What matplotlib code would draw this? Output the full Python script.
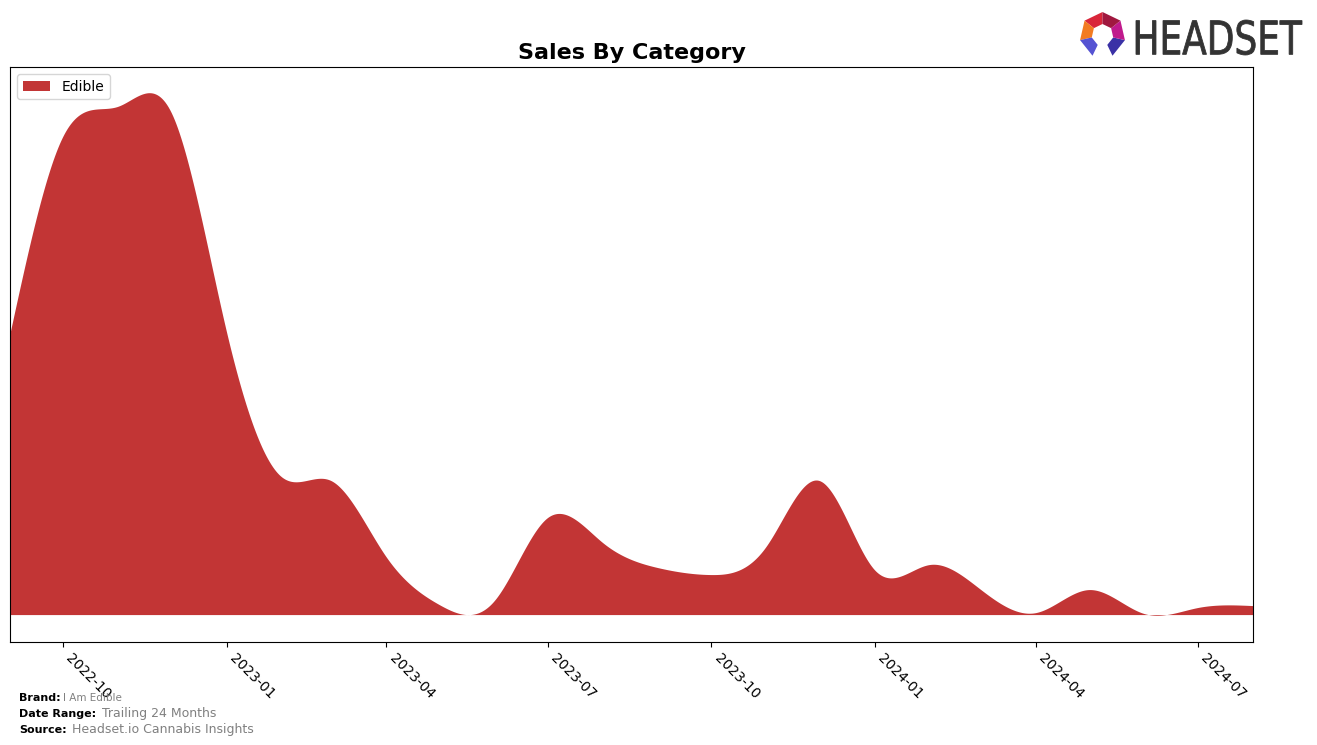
"""Sales By Category area chart for one brand (trailing 24 months), Headset style."""

import numpy as np
import pandas as pd
from matplotlib import pyplot as plt
from matplotlib.patches import Polygon, PathPatch
from matplotlib.textpath import TextPath
from matplotlib.font_manager import FontProperties
from matplotlib.transforms import Affine2D, IdentityTransform

# monthly sales values (arbitrary units)
MONTHS = pd.date_range("2022-09-01", "2024-08-01", freq="MS")
EDIBLE = [279, 478, 508, 502, 284, 138, 134, 58, 10, 14, 97, 72,
          47, 40, 68, 134, 45, 50, 25, 2, 25, 1, 7, 9]
CATEGORY = "Edible"
COLOR = "#C23535"

BRAND = "I Am Edible"
DATE_RANGE = "Trailing 24 Months"
SOURCE = "Headset.io Cannabis Insights"
TICKS = pd.date_range("2022-10-01", "2024-07-01", freq="3MS")

W, H = 1317, 745


def natural_spline(x, y, xs):
    # natural cubic spline, used only to smooth the monthly series for display
    x = np.asarray(x, float)
    y = np.asarray(y, float)
    n = len(x)
    h = np.diff(x)
    A = np.zeros((n, n))
    b = np.zeros(n)
    A[0, 0] = A[-1, -1] = 1.0
    for i in range(1, n - 1):
        A[i, i - 1] = h[i - 1]
        A[i, i] = 2 * (h[i - 1] + h[i])
        A[i, i + 1] = h[i]
        b[i] = 3 * ((y[i + 1] - y[i]) / h[i] - (y[i] - y[i - 1]) / h[i - 1])
    c = np.linalg.solve(A, b)
    idx = np.clip(np.searchsorted(x, xs) - 1, 0, n - 2)
    dx = xs - x[idx]
    hi = h[idx]
    bb = (y[idx + 1] - y[idx]) / hi - hi * (2 * c[idx] + c[idx + 1]) / 3
    dd = (c[idx + 1] - c[idx]) / (3 * hi)
    return y[idx] + bb * dx + c[idx] * dx ** 2 + dd * dx ** 3


def draw_logo(fig):
    # rough Headset mark: heptagon ring open at the bottom, in display pixels
    cx, cy = 1102.5, H - 35
    r_out, r_in = 23, 11
    ang = np.deg2rad(90 + np.arange(8) * 360 / 7)
    outer = np.c_[cx + r_out * np.cos(ang), cy + r_out * np.sin(ang)]
    inner = np.c_[cx + r_in * np.cos(ang), cy + r_in * np.sin(ang)]
    # segment index -> colour (segment 3 is the gap at the bottom)
    seg_colors = {0: "#D9263A", 1: "#F27B21", 2: "#5553D2", 4: "#3A31A6", 5: "#C01A8C", 6: "#A0183F"}
    for i, col in seg_colors.items():
        verts = [outer[i], outer[i + 1], inner[i + 1], inner[i]]
        fig.patches.append(Polygon(verts, closed=True, facecolor=col, edgecolor="none",
                                   transform=IdentityTransform()))

    # wordmark squeezed into the box the reference shows
    tp = TextPath((0, 0), "HEADSET", size=50, prop=FontProperties(family="DejaVu Sans"))
    ext = tp.get_extents()
    x0, x1, y0, y1 = 1136, 1302, H - 55, H - 20
    tr = Affine2D().translate(-ext.x0, -ext.y0).scale((x1 - x0) / ext.width,
                                                      (y1 - y0) / ext.height).translate(x0, y0)
    fig.patches.append(PathPatch(tr.transform_path(tp), facecolor="#333333", edgecolor="#333333",
                                 linewidth=0.6, transform=IdentityTransform()))


def main():
    fig = plt.figure(figsize=(W / 100, H / 100), dpi=100)
    ax = fig.add_axes([0.0076, 0.1383, 0.9438, 0.7717])

    xnum = MONTHS.map(pd.Timestamp.toordinal).to_numpy(dtype=float)
    xs = np.linspace(xnum[0], xnum[-1], 800)
    ys = natural_spline(xnum, EDIBLE, xs)
    xdates = [pd.Timestamp.fromordinal(int(v)) + pd.Timedelta(days=v - int(v)) for v in xs]

    ax.stackplot(xdates, ys, labels=[CATEGORY], colors=[COLOR])
    ax.set_xlim(MONTHS[0], MONTHS[-1])
    lo, hi = ys.min(), ys.max()
    pad = 0.05 * (hi - lo)
    ax.set_ylim(lo - pad, hi + pad)

    ax.set_yticks([])
    ax.set_xticks(TICKS)
    ax.set_xticklabels([t.strftime("%Y-%m") for t in TICKS], rotation=-45, ha="left", fontsize=10)
    ax.set_title("Sales By Category", fontsize=16, fontweight="bold", pad=6)
    ax.legend(loc="upper left", fontsize=10)

    # footer
    fig.text(0.0144, 0.0586, "Brand:", fontsize=8, fontweight="bold")
    fig.text(0.048, 0.0586, BRAND, fontsize=7.5, color="gray")
    fig.text(0.0144, 0.0376, "Date Range:", fontsize=8, fontweight="bold")
    fig.text(0.0775, 0.0376, DATE_RANGE, fontsize=9, color="gray")
    fig.text(0.0144, 0.0166, "Source:", fontsize=8, fontweight="bold")
    fig.text(0.0547, 0.0166, SOURCE, fontsize=9, color="gray")

    draw_logo(fig)

    fig.savefig("out.png", dpi=100)


if __name__ == "__main__":
    main()
